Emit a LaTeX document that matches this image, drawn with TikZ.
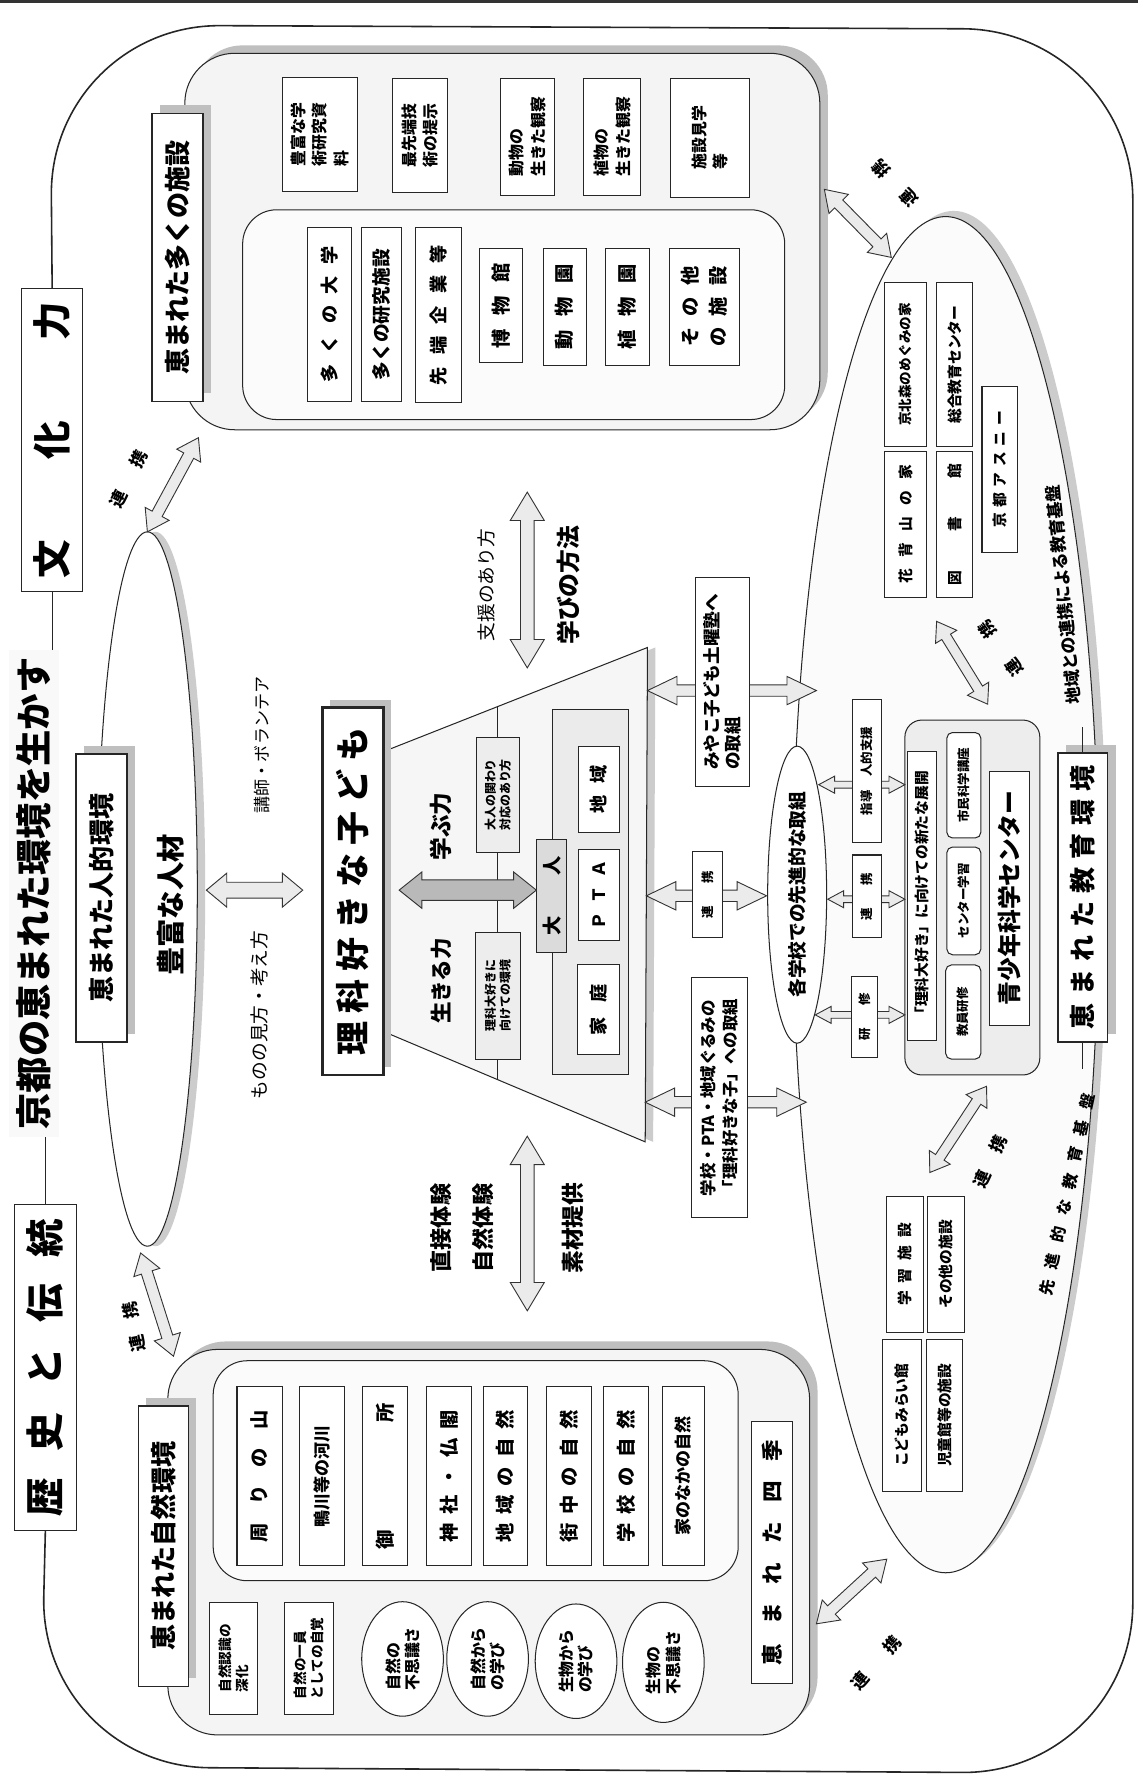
\documentclass[tikz,border=0pt]{standalone}
\usepackage{fontspec}
\setmainfont{Noto Sans CJK JP}
\usetikzlibrary{calc,shapes.geometric}
\makeatletter
\newcommand\lsp[2]{\def\lsp@gap{#1}\lsp@loop#2\relax\relax}
\def\lsp@loop#1#2{#1\ifx\relax#2\else\hspace{\lsp@gap}\expandafter\lsp@loop\expandafter#2\fi}
\makeatother
\newcommand\fsz[2]{\fontsize{#1}{#2}\selectfont}
\newcommand\barrow[6][]{%
  \filldraw[ba,#1] (#2)
  -- ($(#2)!#6!(#3)!#5!90:(#3)$)
  -- ($(#2)!#6!(#3)!#4!90:(#3)$)
  -- ($(#3)!#6!(#2)!#4!-90:(#2)$)
  -- ($(#3)!#6!(#2)!#5!-90:(#2)$)
  -- (#3)
  -- ($(#3)!#6!(#2)!#5!90:(#2)$)
  -- ($(#3)!#6!(#2)!#4!90:(#2)$)
  -- ($(#2)!#6!(#3)!#4!-90:(#3)$)
  -- ($(#2)!#6!(#3)!#5!-90:(#3)$)
  -- cycle;}
\begin{document}
\begin{tikzpicture}[x=1pt,y=-1pt,
 every node/.style={inner sep=0pt,outer sep=0pt},
 ln/.style={draw=black!85,line width=0.9pt},
 rb/.style={ln,fill=white,rotate=90,align=center},
 shd/.style={preaction={fill=gray!50,draw=none,transform canvas={xshift=7pt,yshift=7pt}}},
 lab/.style={rb,shd,line width=1.1pt},
 txt/.style={rotate=90,align=center},
 ba/.style={fill=gray!16,draw=black!80,line width=0.8pt,line join=miter},
 con/.style={ln,fill=gray!9,rounded corners=44},
 ren/.style={font=\fsz{15}{15}\bfseries},
]
\useasboundingbox (0,0) rectangle (1004,1568);
\fill[white] (0,0) rectangle (1004,1568);
\draw[black!80,line width=2.5pt] (0,1.25) -- (1004,1.25);

% ===== big ellipse (education environment)
\node[ellipse,ln,fill=gray!3,minimum width=270,minimum height=1196,
  preaction={fill=gray!40,draw=none,transform canvas={xshift=7pt,yshift=5pt}}] (edu) at (834,789) {};

% ===== facilities block
\node[con,minimum width=560,minimum height=332,shd] (fac) at (443,213) {};
\node[ln,fill=gray!3,rounded corners=30,minimum width=478,minimum height=185] (facin) at (453,277.5) {};
\node[lab,minimum width=254,minimum height=45,font=\fsz{23}{23}\bfseries] (facl) at (156.5,227) {恵まれた多くの施設};
\node[rb,minimum width=153,minimum height=39,font=\fsz{16}{16}\bfseries] (f1) at (290.5,277.5) {\lsp{10pt}{多くの大学}};
\node[rb,minimum width=153,minimum height=35,font=\fsz{16.5}{16.5}\bfseries] (f2) at (336.5,277.5) {多くの研究施設};
\node[rb,minimum width=154,minimum height=41,font=\fsz{16}{16}\bfseries] (f3) at (386.5,278) {\lsp{11pt}{先端企業等}};
\node[rb,minimum width=101,minimum height=38,font=\fsz{17}{17}\bfseries] (f4) at (442,269.5) {\lsp{12pt}{博物館}};
\node[rb,minimum width=103,minimum height=38,font=\fsz{17}{17}\bfseries] (f5) at (498,270.5) {\lsp{12pt}{動物園}};
\node[rb,minimum width=103,minimum height=39,font=\fsz{17}{17}\bfseries] (f6) at (553.5,270.5) {\lsp{12pt}{植物園}};
\node[rb,minimum width=103,minimum height=62,font=\fsz{17}{24}\bfseries,align=left] (f7) at (621,270.5) {\lsp{10pt}{その他}\\\lsp{10pt}{の施設}};
\node[rb,minimum width=101,minimum height=66,font=\fsz{14}{19}\bfseries,align=left] (u1) at (282,118.5) {豊富な学\\術研究資\\料};
\node[rb,minimum width=101,minimum height=49,font=\fsz{14}{19}\bfseries,align=left] (u2) at (370.5,119.5) {最先端技\\術の提示};
\node[rb,minimum width=103,minimum height=48,font=\fsz{14}{19}\bfseries,align=left] (u3) at (465,120.5) {動物の\\生きた観察};
\node[rb,minimum width=103,minimum height=50,font=\fsz{14}{19}\bfseries,align=left] (u4) at (540,120.5) {植物の\\生きた観察};
\node[rb,minimum width=105,minimum height=70,font=\fsz{14}{19}\bfseries,align=left] (u5) at (626,121.5) {施設見学\\等};

% ===== natural environment block
\node[con,minimum width=566,minimum height=340,shd] (nat) at (431,1360) {};
\node[ln,fill=gray!3,rounded corners=30,minimum width=463,minimum height=194] (natin) at (419.5,1297) {};
\node[lab,minimum width=247,minimum height=44,font=\fsz{23}{23}\bfseries] (natl) at (144,1363.5) {恵まれた自然環境};
\node[rb,minimum width=158,minimum height=40,font=\fsz{17}{17}\bfseries] (n1) at (229,1302) {\lsp{16pt}{周りの山}};
\node[rb,minimum width=158,minimum height=40,font=\fsz{15}{15}\bfseries] (n2) at (284,1302) {鴨川等の河川};
\node[rb,minimum width=158,minimum height=39,font=\fsz{17}{17}\bfseries] (n3) at (339.5,1302) {\lsp{95pt}{御所}};
\node[rb,minimum width=158,minimum height=40,font=\fsz{17}{17}\bfseries] (n4) at (396,1302) {\lsp{8pt}{神社・仏閣}};
\node[rb,minimum width=158,minimum height=39,font=\fsz{17}{17}\bfseries] (n5) at (445.5,1302) {\lsp{8pt}{地域の自然}};
\node[rb,minimum width=158,minimum height=40,font=\fsz{17}{17}\bfseries] (n6) at (502,1302) {\lsp{8pt}{街中の自然}};
\node[rb,minimum width=158,minimum height=40,font=\fsz{17}{17}\bfseries] (n7) at (552,1302) {\lsp{8pt}{学校の自然}};
\node[rb,minimum width=158,minimum height=37,font=\fsz{15}{15}\bfseries] (n8) at (602.5,1302) {家のなかの自然};
\node[rb,minimum width=99,minimum height=42,font=\fsz{12}{15}\bfseries,align=left] (s1) at (206,1462.5) {自然認識の\\深化};
\node[rb,minimum width=99,minimum height=43,font=\fsz{12}{15}\bfseries,align=left] (s2) at (272.5,1462.5) {自然の一員\\としての自覚};
\node[ellipse,rb,minimum width=101,minimum height=72,font=\fsz{14}{17}\bfseries,align=left] (e1) at (355,1463) {自然の\\不思議さ};
\node[ellipse,rb,minimum width=101,minimum height=72,font=\fsz{14}{17}\bfseries,align=left] (e2) at (430,1463) {自然から\\の学び};
\node[ellipse,rb,minimum width=101,minimum height=72,font=\fsz{14}{17}\bfseries,align=left] (e3) at (508,1465) {生物から\\の学び};
\node[ellipse,rb,minimum width=106,minimum height=72,font=\fsz{14}{17}\bfseries,align=left] (e4) at (585,1466) {生物の\\不思議さ};
\node[rb,minimum width=231,minimum height=36,font=\fsz{19}{19}\bfseries] (shiki) at (681,1369.5) {\lsp{17pt}{恵まれた四季}};

% ===== human environment ellipse
\node[ellipse,ln,fill=white,minimum width=88,minimum height=630,
  preaction={fill=gray!40,draw=none,transform canvas={xshift=7pt}}] (jin) at (130,784) {};
\node[lab,minimum width=254,minimum height=45,font=\fsz{23}{23}\bfseries] (jinl) at (89.5,792) {恵まれた人的環境};
\node[txt,font=\fsz{25}{25}\bfseries] (jinz) at (151,798) {豊富な人材};

% ===== central trapezoid
\coordinate (tz1) at (320,670);
\coordinate (tz2) at (571,571);
\coordinate (tz3) at (569,1007);
\coordinate (tz4) at (320,902);
\filldraw[ln,fill=gray!7,preaction={fill=gray!40,draw=none,transform canvas={xshift=7pt}}] (tz1) -- (tz2) -- (tz3) -- (tz4) -- cycle;
\coordinate (vt) at (439,623.1);
\coordinate (vb) at (439,952.2);
\draw[ln] (vt) -- (vb);
\node[ln,fill=gray!16,minimum width=67,minimum height=322] (adc) at (520.5,787) {};
\node[rb,minimum width=76,minimum height=36,font=\fsz{16}{16}\bfseries] (chiiki) at (528,696) {\lsp{10pt}{地域}};
\node[rb,minimum width=80,minimum height=36,font=\fsz{15}{15}\bfseries] (pta) at (528,789) {\lsp{8pt}{ＰＴＡ}};
\node[rb,minimum width=79,minimum height=37,font=\fsz{16}{16}\bfseries] (katei) at (527.5,890.5) {\lsp{13pt}{家庭}};
\node[rb,fill=gray!28,minimum width=100,minimum height=27,font=\fsz{17}{17}\bfseries] (otona) at (486.5,790) {\lsp{36pt}{大人}};
\node[rb,fill=gray!14,minimum width=102,minimum height=38,font=\fsz{10.5}{13}\bfseries] (kakawari) at (439,701) {大人の関わり\\対応のあり方};
\node[rb,fill=gray!14,minimum width=112,minimum height=40,font=\fsz{10.5}{13}\bfseries] (kankyo) at (439,878) {理科大好きに\\向けての環境};
\node[txt,font=\fsz{20}{20}\bfseries] (manabu) at (389,729) {学ぶ力};
\node[txt,font=\fsz{19}{19}\bfseries] (ikiru) at (389,865) {生きる力};
\node[rb,line width=2.6pt,shd,minimum width=324,minimum height=54,font=\fsz{30}{30}\bfseries] (kodomo) at (311,786) {\lsp{7pt}{理科好きな子ども}};
\coordinate (da1) at (352,785);
\coordinate (da2) at (473,785);
\barrow[fill=gray!55]{da1}{da2}{9pt}{16pt}{20pt}

% vertical arrows and labels
\coordinate (sa1) at (465,434);
\coordinate (sa2) at (465,589);
\barrow{sa1}{sa2}{6pt}{15pt}{25pt}
\coordinate (sb1) at (465,1002);
\coordinate (sb2) at (465,1156);
\barrow{sb1}{sb2}{6pt}{15pt}{25pt}
\node[txt,font=\fsz{16.5}{16.5}] (shien) at (429,516) {支援のあり方};
\node[txt,font=\fsz{21}{21}\bfseries] (manabi) at (501,516) {学びの方法};
\node[txt,font=\fsz{19.5}{19.5}\bfseries] (chok) at (389,1083) {直接体験};
\node[txt,font=\fsz{19.5}{19.5}\bfseries] (shizen) at (426,1083) {自然体験};
\node[txt,font=\fsz{20}{20}\bfseries] (sozai) at (505,1083) {素材提供};
\node[txt,font=\fsz{15}{15}] (koushi) at (231,657) {講師・ボランテア};
\node[txt,font=\fsz{16.5}{16.5}] (mono) at (229,895) {ものの見方・考え方};
\coordinate (ma1) at (182,785);
\coordinate (ma2) at (267,785);
\barrow{ma1}{ma2}{7pt}{15pt}{18pt}

% ===== right side: groups inside big ellipse
\node[rb,minimum width=145,minimum height=37,font=\fsz{12}{12}\bfseries] (g1) at (798.5,321.5) {京北森のめぐみの家};
\node[rb,minimum width=129,minimum height=37,font=\fsz{13}{13}\bfseries] (g2) at (798.5,462.5) {\lsp{10pt}{花背山の家}};
\node[rb,minimum width=145,minimum height=32,font=\fsz{13}{13}\bfseries] (g3) at (842,321.5) {総合教育センター};
\node[rb,minimum width=129,minimum height=32,font=\fsz{13}{13}\bfseries] (g4) at (842,462.5) {\lsp{34pt}{図書館}};
\node[rb,minimum width=146,minimum height=31,font=\fsz{13}{13}\bfseries] (g5) at (881.5,414) {\lsp{5pt}{京都アスニー}};
\node[rb,minimum width=120,minimum height=32,font=\fsz{13}{13}\bfseries] (b1) at (798,1115) {\lsp{7pt}{学習施設}};
\node[rb,minimum width=120,minimum height=33,font=\fsz{13}{13}\bfseries] (b2) at (834.5,1115) {その他の施設};
\node[rb,minimum width=134,minimum height=35,font=\fsz{13}{13}\bfseries] (b3) at (795.5,1248) {こどもみらい館};
\node[rb,minimum width=134,minimum height=32,font=\fsz{13}{13}\bfseries] (b4) at (833,1248) {児童館等の施設};

% science center
\node[ln,fill=gray!14,rounded corners=15,minimum width=119,minimum height=313] (sc) at (857.5,791.5) {};
\node[rb,minimum width=255,minimum height=26,font=\fsz{13}{13}\bfseries] (scA) at (813,790.5) {「理科大好き」に向けての新たな展開};
\node[rb,rounded corners=5,minimum width=93,minimum height=30,font=\fsz{11}{11}\bfseries] (scB1) at (850,692.5) {市民科学講座};
\node[rb,rounded corners=5,minimum width=95,minimum height=30,font=\fsz{11}{11}\bfseries] (scB2) at (850,794.5) {センター学習};
\node[rb,rounded corners=5,minimum width=83,minimum height=31,font=\fsz{11}{11}\bfseries] (scB3) at (849.5,892.5) {教員研修};
\node[rb,minimum width=224,minimum height=35,font=\fsz{21}{21}\bfseries] (scC) at (890.5,792) {青少年科学センター};

% each school ellipse
\node[ellipse,rb,minimum width=262,minimum height=52,font=\fsz{16.5}{16.5}\bfseries] (kaku) at (703,789) {各学校での先進的な取組};

% label of education environment
\node[lab,minimum width=255,minimum height=44,font=\fsz{23}{23}\bfseries] (edul) at (955,791.5) {\lsp{7pt}{恵まれた教育環境}};
\coordinate (edut) at (955,641);
\coordinate (edub) at (955,943);
\draw[ln] (edul.east) -- (edut);
\draw[ln] (edul.west) -- (edub);
\node[rotate=95.7,font=\fsz{15}{15}\bfseries] (kiban1) at (938,524.5) {地域との連携による教育基盤};
\node[rotate=77.8,font=\fsz{14}{14}\bfseries] (kiban2) at (941,1053.5) {\lsp{10pt}{先進的な教育基盤}};

% small arrows school -> center
\coordinate (k1a) at (722,692);
\coordinate (k1b) at (798,692);
\coordinate (k2a) at (730,793);
\coordinate (k2b) at (798,793);
\coordinate (k3a) at (719,895);
\coordinate (k3b) at (798,895);
\barrow{k1a}{k1b}{3pt}{7.5pt}{14pt}
\barrow{k2a}{k2b}{3pt}{7.5pt}{14pt}
\barrow{k3a}{k3b}{3pt}{7.5pt}{14pt}
\node[rb,minimum width=126,minimum height=25,font=\fsz{11}{11}\bfseries] (kb1) at (764.5,680) {指導\hspace{12pt}人的支援};
\node[rb,minimum width=73,minimum height=25,font=\fsz{11}{11}\bfseries] (kb2) at (764.5,790.5) {\lsp{20pt}{連携}};
\node[rb,minimum width=72,minimum height=23,font=\fsz{11}{11}\bfseries] (kb3) at (762.5,897) {\lsp{20pt}{研修}};

% trapezoid -> ellipse arrows
\coordinate (t1a) at (571,609);
\coordinate (t1b) at (720,609);
\coordinate (t2a) at (570,790);
\coordinate (t2b) at (676,790);
\coordinate (t3a) at (569,972);
\coordinate (t3b) at (711,972);
\barrow{t1a}{t1b}{5pt}{12.5pt}{26pt}
\barrow{t2a}{t2b}{5pt}{12.5pt}{26pt}
\barrow{t3a}{t3b}{5pt}{12.5pt}{26pt}
\node[rb,minimum width=185,minimum height=48,font=\fsz{15.5}{19}\bfseries,align=left] (miyako) at (637,601.5) {みやこ子ども土曜塾へ\\の取組};
\node[rb,minimum width=76,minimum height=26,font=\fsz{11}{11}\bfseries] (renm) at (624,789) {\lsp{20pt}{連携}};
\node[rb,minimum width=212,minimum height=49,font=\fsz{14.5}{19}\bfseries,align=left] (gakko) at (634.5,968) {学校・PTA・地域ぐるみの\\「理科好きな子」への取組};

% ===== cooperation arrows
\coordinate (r1b) at (175,386);
\coordinate (r2a) at (124,1105);
\coordinate (r2b) at (153,1196);
\coordinate (r3a) at (727,167);
\coordinate (r3b) at (786,227);
\coordinate (r4a) at (826,548);
\coordinate (r4b) at (871,621);
\coordinate (r5a) at (870,958);
\coordinate (r5b) at (820,1034);
\coordinate (r6a) at (720,1432);
\coordinate (r6b) at (782,1375);
\barrow{jin.north}{r1b}{5pt}{12pt}{18pt}
\barrow{r2a}{r2b}{5pt}{12pt}{18pt}
\barrow{r3a}{r3b}{5pt}{12pt}{18pt}
\barrow{r4a}{r4b}{4.5pt}{11pt}{16pt}
\barrow{r5a}{r5b}{4.5pt}{11pt}{16pt}
\barrow{r6a}{r6b}{5pt}{12pt}{18pt}
\node[ren,rotate=63] (rl1) at (113.5,422.5) {\lsp{24pt}{連携}};
\node[ren,rotate=101] (rl2) at (118,1170) {\lsp{15pt}{連携}};
\node[ren,rotate=134] (rl3) at (789,161.5) {\lsp{21pt}{連携}};
\node[ren,rotate=126] (rl4) at (882.5,572) {\lsp{26pt}{連携}};
\node[ren,rotate=65] (rl5) at (873.5,1024) {\lsp{19pt}{連携}};
\node[ren,rotate=49] (rl6) at (772.5,1466.5) {\lsp{28pt}{連携}};

% ===== title and frame
\node[rb,minimum width=268,minimum height=54,font=\fsz{34}{34}\bfseries] (bunka) at (46,388) {\lsp{71pt}{文化力}};
\node[rb,minimum width=288,minimum height=55,font=\fsz{34}{34}\bfseries] (rekishi) at (40,1206) {\lsp{23pt}{歴史と伝統}};
\node[txt,font=\fsz{32}{32}\bfseries,inner sep=7pt,fill=gray!5] (title) at (30,788) {京都の恵まれた環境を生かす};
\draw[ln] (bunka.west) -- (bunka.west |- title.east);
\draw[ln] (rekishi.east) -- (rekishi.east |- title.west);
\draw[ln,line width=1.4pt,rounded corners=150] (bunka.east) -- (44,22) -- (999,26) -- (999,1564) -- (35,1558) -- (rekishi.west);
\end{tikzpicture}
\end{document}
